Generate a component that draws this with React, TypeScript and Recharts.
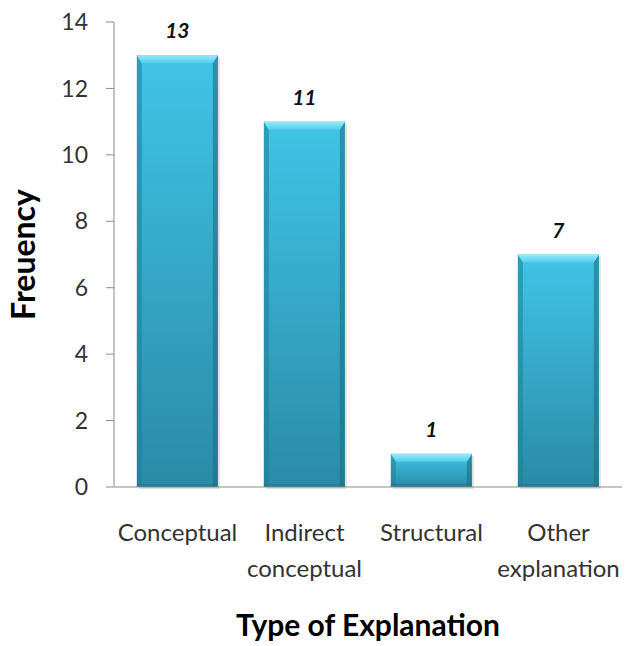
import React from 'react';
import { BarChart, Bar, XAxis, YAxis, LabelList, Label } from 'recharts';

const categories = ['Conceptual', 'Indirect\nconceptual', 'Structural', 'Other\nexplanation'];
const frequencies = [13, 11, 1, 7];
const yTicks = [0, 2, 4, 6, 8, 10, 12, 14];
const boundaryTicks = [0, 1, 2, 3, 4];

const chartData = categories.map((name, i) => ({ name, value: frequencies[i] }));

const FONT = 'Lato, "Open Sans", sans-serif';
const AXIS_GRAY = '#8c8c8c';

// bevelled cyan bar, roughly like the office "3D" bar style
const BevelBar = (props: any) => {
  const { x, y, width, height } = props;
  if (!height || height <= 0) return null;
  const b = Math.min(8, height / 3);
  const side = 5;
  return (
    <g>
      <rect x={x + 2} y={y + 2} width={width} height={height} fill="#000" opacity={0.12} />
      <rect x={x} y={y} width={width} height={height} fill="url(#barBody)" />
      <polygon
        points={`${x},${y} ${x + side},${y + b} ${x + side},${y + height} ${x},${y + height}`}
        fill="#1f7d96"
        opacity={0.55}
      />
      <polygon
        points={`${x + width},${y} ${x + width - side},${y + b} ${x + width - side},${y + height} ${x + width},${y + height}`}
        fill="#1a6f86"
        opacity={0.6}
      />
      <polygon
        points={`${x},${y} ${x + width},${y} ${x + width - side},${y + b} ${x + side},${y + b}`}
        fill="url(#barTop)"
      />
      <rect x={x} y={y + height - 3} width={width} height={3} fill="#1d6f85" opacity={0.5} />
    </g>
  );
};

const CategoryTick = (props: any) => {
  const { x, y, payload } = props;
  const lines = String(payload.value).split('\n');
  return (
    <g transform={`translate(${x},${y})`}>
      {lines.map((line: string, i: number) => (
        <text
          key={i}
          x={0}
          y={46 + i * 36}
          textAnchor="middle"
          fill="#333"
          fontSize={24}
          fontFamily={FONT}
        >
          {line}
        </text>
      ))}
    </g>
  );
};

export default function App() {
  return (
    <div style={{ position: 'absolute', left: 0, top: 0, background: '#fff' }}>
      <BarChart
        width={634}
        height={646}
        data={chartData}
        margin={{ top: 22, right: 12, left: 0, bottom: 0 }}
        barCategoryGap="18%"
      >
        <defs>
          <linearGradient id="barBody" x1="0" y1="0" x2="0" y2="1">
            <stop offset="0%" stopColor="#40c4e7" />
            <stop offset="100%" stopColor="#2a8ba6" />
          </linearGradient>
          <linearGradient id="barTop" x1="0" y1="0" x2="0" y2="1">
            <stop offset="0%" stopColor="#96eafb" />
            <stop offset="100%" stopColor="#52cdeb" />
          </linearGradient>
        </defs>
        <XAxis
          xAxisId="bounds"
          type="number"
          domain={[0, 4]}
          ticks={boundaryTicks}
          height={0}
          axisLine={false}
          tickLine={{ stroke: AXIS_GRAY }}
          tickSize={8}
          tick={() => <g />}
        />
        <XAxis
          dataKey="name"
          height={159}
          axisLine={{ stroke: AXIS_GRAY }}
          tickLine={false}
          interval={0}
          tick={<CategoryTick />}
        >
          <Label
            value="Type of Explanation"
            position="insideBottom"
            offset={10}
            fill="#000"
            fontSize={30}
            fontWeight="bold"
            fontFamily={FONT}
          />
        </XAxis>
        <YAxis
          domain={[0, 14]}
          ticks={yTicks}
          width={114}
          axisLine={{ stroke: AXIS_GRAY }}
          tickLine={{ stroke: AXIS_GRAY }}
          tickSize={8}
          tickMargin={18}
          tick={{ fill: '#333', fontSize: 23, fontFamily: FONT }}
        >
          <Label
            value="Freuency"
            angle={-90}
            position="insideLeft"
            offset={24}
            fill="#000"
            fontSize={32}
            fontWeight="bold"
            fontFamily={FONT}
            style={{ textAnchor: 'middle' }}
          />
        </YAxis>
        <Bar dataKey="value" shape={<BevelBar />} isAnimationActive={false}>
          <LabelList
            dataKey="value"
            position="top"
            offset={17}
            fill="#111"
            fontSize={21}
            fontWeight="bold"
            fontStyle="italic"
            fontFamily={FONT}
          />
        </Bar>
      </BarChart>
    </div>
  );
}
